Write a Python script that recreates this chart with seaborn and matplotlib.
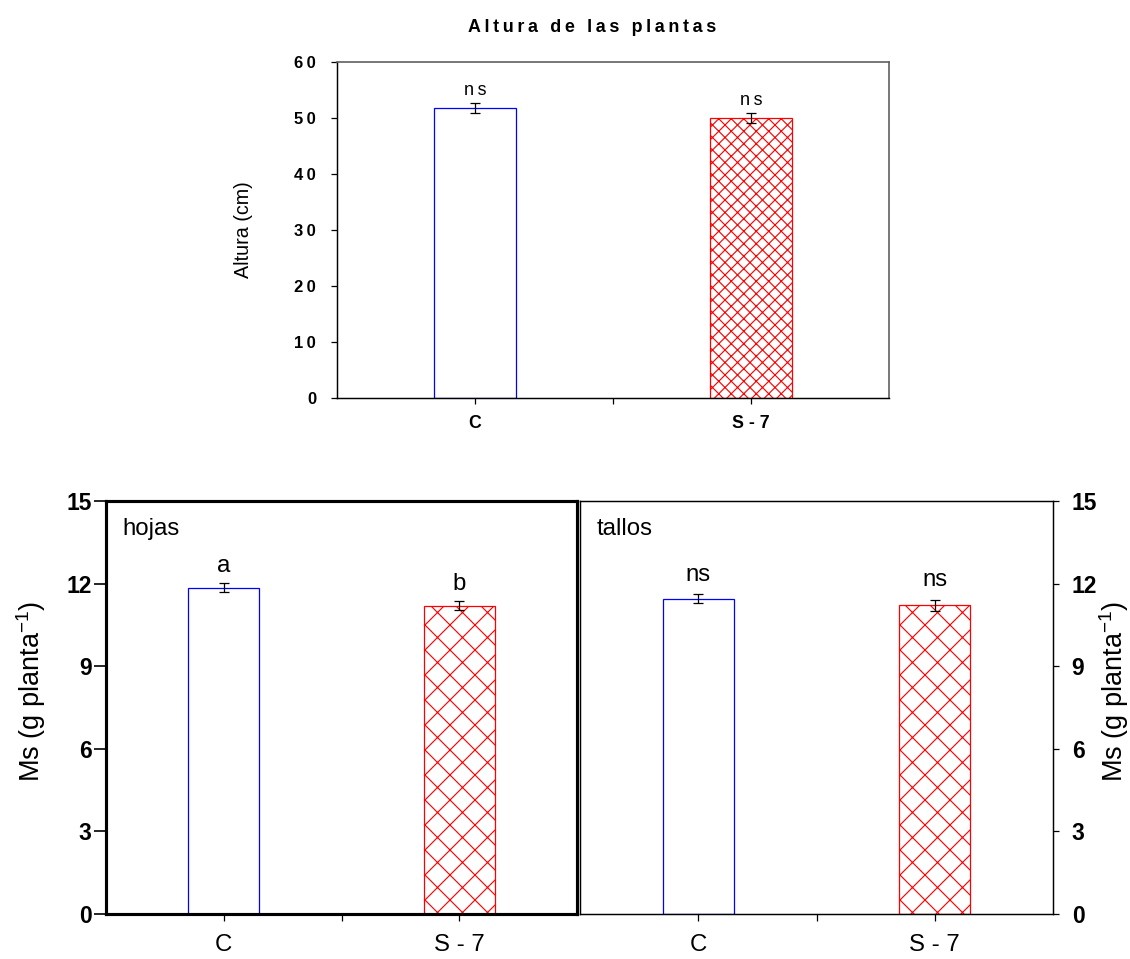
import matplotlib
matplotlib.use("Agg")
import matplotlib.pyplot as plt
import seaborn as sns
import pandas as pd
from matplotlib import font_manager

# ---- data ----
tratamientos = ["C", "S-7"]
etiquetas_sup = ["C", "S - 7"]
etiquetas_inf = ["C", "S - 7"]

altura = [51.8, 50.0]
altura_err = [0.9, 0.85]
altura_sig = ["ns", "ns"]

hojas = [11.85, 11.2]
hojas_err = [0.17, 0.15]
hojas_sig = ["a", "b"]

tallos = [11.45, 11.22]
tallos_err = [0.17, 0.2]
tallos_sig = ["ns", "ns"]

THIN = "\u2009"


def spaced(s):
    """Letter-spaced version of a label (thin space between glyphs)."""
    return THIN.join(s)


sns.set_theme(style="white")
installed = {f.name for f in font_manager.fontManager.ttflist}
narrow = "Liberation Sans Narrow" if "Liberation Sans Narrow" in installed else "Liberation Sans"
plt.rcParams["font.family"] = ["Liberation Sans", "DejaVu Sans"]
for key in ["text.color", "axes.labelcolor", "xtick.color", "ytick.color"]:
    plt.rcParams[key] = "black"
plt.rcParams["hatch.linewidth"] = 0.55
plt.rcParams["mathtext.fontset"] = "custom"
plt.rcParams["mathtext.rm"] = narrow
plt.rcParams["mathtext.default"] = "regular"

DPI = 150
fig = plt.figure(figsize=(1130 / DPI, 959 / DPI), dpi=DPI)

ax_top = fig.add_axes([337 / 1130, 1 - 398 / 959, 552 / 1130, 336 / 959])
ax_l = fig.add_axes([106 / 1130, 1 - 914 / 959, 471 / 1130, 413 / 959])
ax_r = fig.add_axes([580 / 1130, 1 - 914 / 959, 473 / 1130, 413 / 959])

edge_colors = ["blue", "red"]


def draw_panel(ax, vals, errs, sig, hatch, sig_font, sig_off):
    df = pd.DataFrame({"trat": tratamientos, "val": vals})
    sns.barplot(data=df, x="trat", y="val", ax=ax, width=0.3,
                errorbar=None, color="white")
    for i, p in enumerate(ax.patches):
        p.set_facecolor("white")
        p.set_edgecolor(edge_colors[i])
        p.set_linewidth(0.6)
        if i == 1:
            p.set_hatch(hatch)
    ax.errorbar([0, 1], vals, yerr=errs, fmt="none", ecolor="black",
                elinewidth=0.6, capsize=2.2, capthick=0.6)
    for i, (v, e, s) in enumerate(zip(vals, errs, sig)):
        ax.annotate(s, (i, v + e), xytext=(0, sig_off), textcoords="offset points",
                    ha="center", va="bottom", **sig_font)
    ax.set_xlim(-0.5, 1.5)
    ax.set_xlabel("")
    ax.set_ylabel("")


# ---- top panel: plant height ----
draw_panel(ax_top, altura, altura_err, [spaced(s) for s in altura_sig], "xxxx",
           dict(fontsize=8.6), 2)
ax_top.set_ylim(0, 60)
ax_top.set_yticks(range(0, 61, 10))
ax_top.set_yticklabels([spaced(str(v)) for v in range(0, 61, 10)],
                       fontsize=8, fontweight="bold")
ax_top.set_xticks([0, 0.5, 1])
ax_top.set_xticklabels([etiquetas_sup[0], "", etiquetas_sup[1]],
                       fontsize=8.5, fontweight="bold")
ax_top.tick_params(axis="y", direction="out", length=3, width=0.6, pad=7, left=True)
ax_top.tick_params(axis="x", direction="out", length=3, width=0.6, pad=5, bottom=True)
for side in ["left", "bottom"]:
    ax_top.spines[side].set_color("black")
    ax_top.spines[side].set_linewidth(0.7)
for side in ["top", "right"]:
    ax_top.spines[side].set_color("#606060")
    ax_top.spines[side].set_linewidth(0.8)
ax_top.set_ylabel("Altura (cm)", fontsize=9.5)
ax_top.yaxis.set_label_coords(-0.152, 0.5)
fig.text(592 / 1130, 1 - 28 / 959, spaced("Altura de las plantas"), ha="center",
         va="center", fontsize=8.6, fontweight="bold")

# ---- bottom panels: dry matter ----
ylab = r"Ms (g planta$^{-1}$)"
bottom_ticks = [0, 3, 6, 9, 12, 15]

draw_panel(ax_l, hojas, hojas_err, hojas_sig, "xx",
           dict(fontsize=11.5, family=narrow), 3)
draw_panel(ax_r, tallos, tallos_err, tallos_sig, "xx",
           dict(fontsize=11.5, family=narrow), 4)

for ax, name in [(ax_l, "hojas"), (ax_r, "tallos")]:
    ax.set_ylim(0, 15)
    ax.set_yticks(bottom_ticks)
    ax.set_yticklabels([str(v) for v in bottom_ticks], fontsize=11,
                       fontweight="bold", family=narrow)
    ax.set_xticks([0, 0.5, 1])
    ax.set_xticklabels([etiquetas_inf[0], "", etiquetas_inf[1]],
                       fontsize=11.5, family=narrow)
    ax.tick_params(axis="x", direction="out", length=3.5, width=0.6, pad=6, bottom=True)
    ax.text(0.035, 0.96, name, transform=ax.transAxes, ha="left", va="top",
            fontsize=11.5, family=narrow)

ax_l.tick_params(axis="y", direction="out", length=6, width=0.8, pad=1, left=True)
for side in ax_l.spines.values():
    side.set_color("black")
    side.set_linewidth(1.5)
ax_l.set_ylabel(ylab, fontsize=13, family=narrow)
ax_l.yaxis.set_label_coords(-0.123, 0.54)

ax_r.yaxis.tick_right()
ax_r.tick_params(axis="y", direction="out", length=3, width=0.6, pad=6, right=True, left=False)
for side in ax_r.spines.values():
    side.set_color("black")
    side.set_linewidth(0.7)
ax_r.yaxis.set_label_position("right")
ax_r.set_ylabel(ylab, fontsize=13, family=narrow, rotation=90)
ax_r.yaxis.set_label_coords(1.093, 0.54)

fig.savefig("out.png", dpi=DPI)
